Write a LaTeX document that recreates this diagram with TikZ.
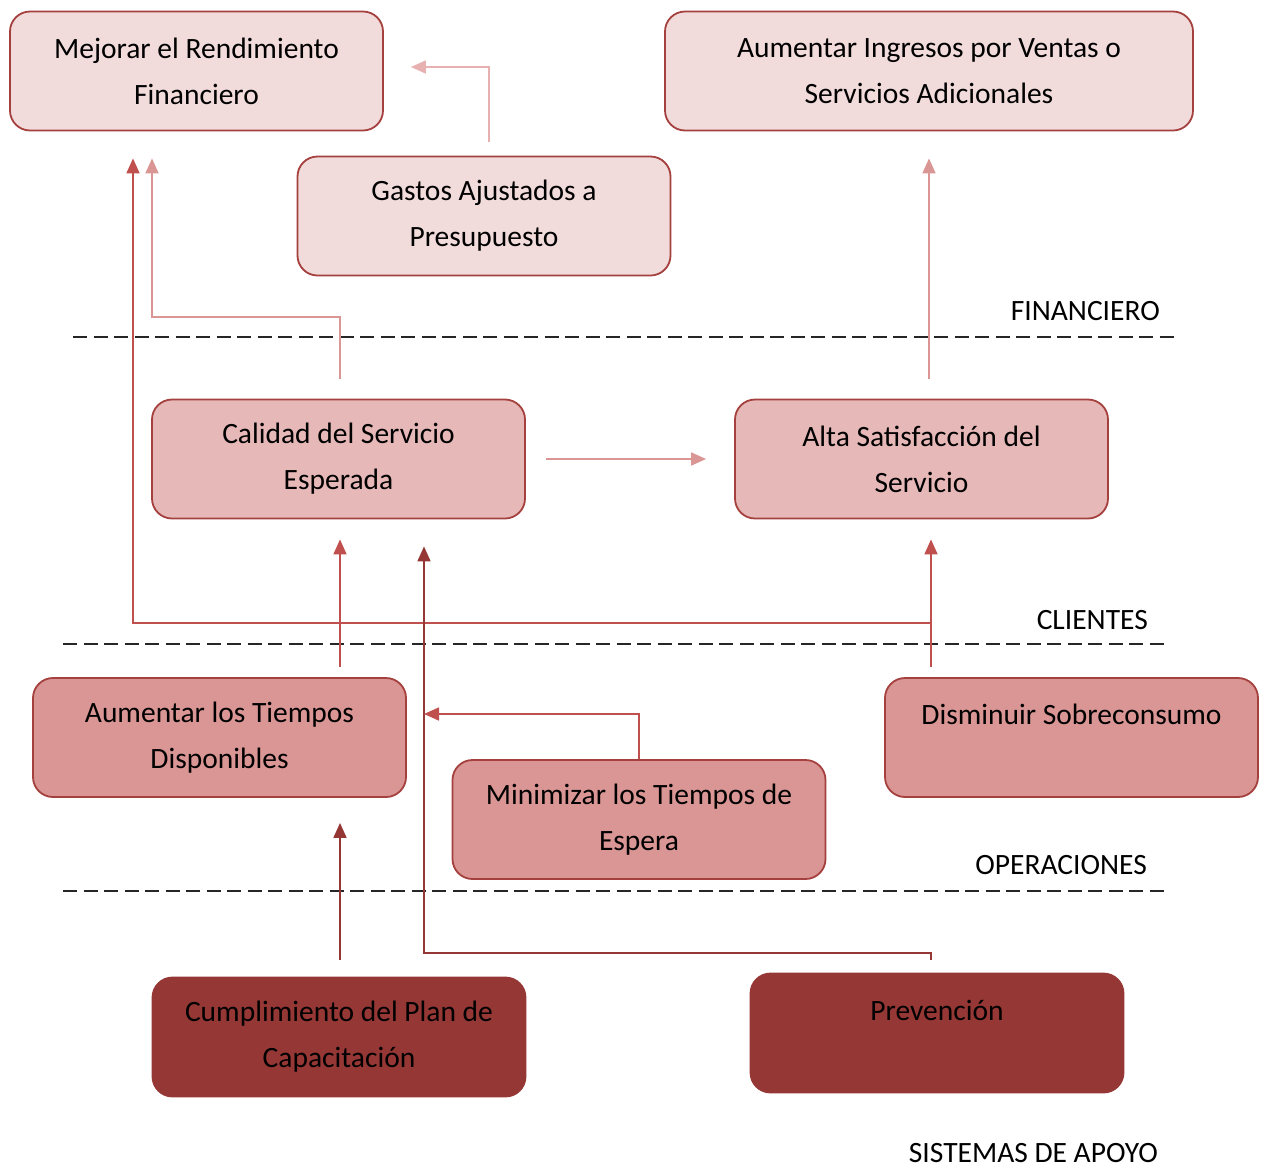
\documentclass[tikz,border=0pt]{standalone}
\usepackage{fontspec}
\setmainfont{Carlito}
\usetikzlibrary{arrows.meta}
\definecolor{bxA}{HTML}{F2DCDB}
\definecolor{bxB}{HTML}{E6B8B7}
\definecolor{bxC}{HTML}{DA9694}
\definecolor{bxD}{HTML}{953735}
\definecolor{bord}{HTML}{A4403D}
\definecolor{lnA}{HTML}{E6B1B0}
\definecolor{lnC}{HTML}{DA9694}
\definecolor{lnR}{HTML}{C0504D}
\definecolor{lnD}{HTML}{953735}
\begin{document}
\begin{tikzpicture}[x=1pt,y=-1pt,
  box/.style={draw=bord, line width=1.8pt, rounded corners=20pt,
    minimum width=373pt, minimum height=119pt, inner sep=0pt,
    align=center, font=\fontsize{29.5}{46}\selectfont},
  lbl/.style={anchor=east, inner sep=0pt, font=\fontsize{29.5}{34}\selectfont},
  arrbase/.style={line width=1.7pt, -{Triangle[length=15pt,width=13pt]}},
  arrA/.style={arrbase, draw=lnA, color=lnA},
  arrC/.style={arrbase, draw=lnC, color=lnC},
  arrR/.style={arrbase, draw=lnR, color=lnR},
  arrD/.style={arrbase, draw=lnD, color=lnD},
  dashline/.style={line width=1.8pt, black!85, dash pattern=on 14pt off 6.5pt}
]
\useasboundingbox (0,0) rectangle (1266,1168);

% boxes
\node[box, fill=bxA] (mej) at (196.5,71) {Mejorar el Rendimiento\\Financiero};
\node[box, fill=bxA, minimum width=528pt] (ing) at (929,71) {Aumentar Ingresos por Ventas o\\Servicios Adicionales};
\node[box, fill=bxA] (gas) at (484,216) {Gastos Ajustados a\\Presupuesto};
\node[box, fill=bxB] (cal) at (338.5,459) {Calidad del Servicio\\Esperada};
\node[box, fill=bxB] (alt) at (921.5,459) {Alta Satisfacción del\\Servicio};
\node[box, fill=bxC] (at) at (219.5,737.5) {Aumentar los Tiempos\\Disponibles};
\node[box, fill=bxC] (min) at (639,819.5) {Minimizar los Tiempos de\\Espera};
\node[box, fill=bxC] (dis) at (1071.5,737.5) {Disminuir Sobreconsumo\\\phantom{Disminuir}};
\node[box, fill=bxD, draw=bxD] (cum) at (339,1037) {Cumplimiento del Plan de\\Capacitación};
\node[box, fill=bxD, draw=bxD] (pre) at (937,1033) {Prevención\\\phantom{Prevención}};

% layer labels and separators
\node[lbl] (lfin) at (1160,311) {FINANCIERO};
\node[lbl] (lcli) at (1148,620) {CLIENTES};
\node[lbl] (lope) at (1147,865) {OPERACIONES};
\node[lbl] (lsis) at (1158,1153) {SISTEMAS DE APOYO};
\draw[dashline] (73,337) -- (1178,337);
\draw[dashline] (63,644) -- (1168,644);
\draw[dashline] (63,891) -- (1168,891);

% bend points
\coordinate (k1) at (152,317);
\coordinate (k3) at (931,623);
\coordinate (k4) at (133,623);
\coordinate (k6) at (931,953);
\coordinate (k7) at (424,953);
\coordinate (k8) at (424,714);

% connectors
\draw[arrA, shorten <=14pt, shorten >=27pt] ([xshift=5pt]gas.north) |- ([yshift=4pt]mej.east);
\draw[arrC, shorten <=20pt, shorten >=27pt] ([xshift=1.5pt]cal.north) |- (k1) -- (k1 |- mej.south);
\draw[arrR, shorten <=10pt, shorten >=27pt] (dis.north -| k3) -- (k3) -- (k4) -- (k4 |- mej.south);
\draw[arrR, shorten <=10pt, shorten >=20pt] (dis.north -| k3) -- (k3 |- alt.south);
\draw[arrC, shorten <=20pt, shorten >=27pt] (alt.north -| ing.south) -- (ing.south);
\draw[arrC, shorten <=20pt, shorten >=28pt] (cal.east) -- (cal.east -| alt.west);
\draw[arrR, shorten <=10pt, shorten >=20pt] ([xshift=1.5pt]at.north -| cal.south) -- ([xshift=1.5pt]cal.south);
\draw[arrD, shorten <=17pt, shorten >=25pt] ([xshift=1pt]cum.north) -- ([xshift=1pt]cum.north |- at.south);
\draw[arrD, shorten <=13pt, shorten >=27pt] (pre.north -| k6) -- (k6) -- (k7) -- (k7 |- cal.south);
\draw[arrR] (min.north) |- (k8);
\end{tikzpicture}
\end{document}
